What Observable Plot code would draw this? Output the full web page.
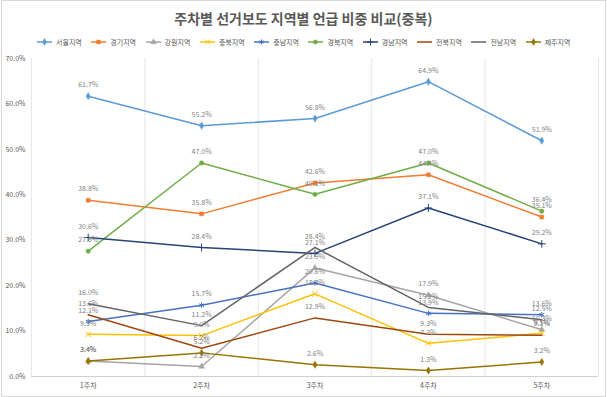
<!DOCTYPE html>
<html>
<head>
<meta charset="utf-8">
<script src="https://cdn.jsdelivr.net/npm/d3@7"></script>
<script src="https://cdn.jsdelivr.net/npm/@observablehq/plot@0.6"></script>
<style>
  html, body { margin: 0; padding: 0; background: #fff; }
  #chart { position: relative; width: 607px; height: 397px; font-family: "Noto Sans CJK KR", "Noto Sans", sans-serif; overflow: hidden; }
  #frame { position: absolute; left: 1px; top: 0px; width: 603px; height: 395px; border: 1px solid #d9d9d9; box-sizing: content-box; pointer-events: none; }
  #title { position: absolute; top: 8px; left: 0; width: 607px; text-align: center; font-size: 14px; font-weight: bold; color: #595959; line-height: 20px; }
  #legend { position: absolute; top: 37px; left: 37px; display: flex; font-size: 7px; color: #595959; line-height: 10px; }
  .item { display: flex; align-items: center; width: 54.3px; }
  .item svg { margin-right: 4px; }
  #chart > svg { position: absolute; left: 0; top: 0; }
</style>
</head>
<body>
<div id="chart">
  <div id="title"></div>
  <div id="legend"></div>
</div>
<script>
const titleText = "주차별 선거보도 지역별 언급 비중 비교(중복)";
const weeks = ["1주차", "2주차", "3주차", "4주차", "5주차"];
const regions = ["서울지역", "경기지역", "강원지역", "충북지역", "충남지역", "경북지역", "경남지역", "전북지역", "전남지역", "제주지역"];
const colors = ["#5B9BD5", "#ED7D31", "#A5A5A5", "#FFC000", "#4472C4", "#70AD47", "#264478", "#9E480E", "#636363", "#997300"];
const symbols = ["diamond", "square", "triangle", "times", "asterisk", "circle", "plus", null, null, "diamond"];

const seoul    = [61.7, 55.2, 56.8, 64.9, 51.9];
const gyeonggi = [38.8, 35.8, 42.6, 44.4, 35.1];
const gangwon  = [3.4, 2.2, 23.9, 17.9, 10.3];
const chungbuk = [9.3, 9.0, 18.2, 7.3, 9.5];
const chungnam = [12.1, 15.7, 20.6, 13.9, 13.6];
const gyeongbuk= [27.6, 47.0, 40.1, 47.0, 36.4];
const gyeongnam= [30.6, 28.4, 27.1, 37.1, 29.2];
const jeonbuk  = [13.6, 6.2, 12.9, 9.3, 9.1];
const jeonnam  = [16.0, 11.2, 28.4, 15.2, 12.5];
const jeju     = [3.4, 5.2, 2.6, 1.3, 3.2];

const series = [seoul, gyeonggi, gangwon, chungbuk, chungnam, gyeongbuk, gyeongnam, jeonbuk, jeonnam, jeju];
const yTicks = [0, 10, 20, 30, 40, 50, 60, 70];

const data = regions.flatMap((r, i) => series[i].map((v, j) => ({region: r, week: j, value: v, sym: symbols[i]})));
const strokeSyms = new Set(["times", "asterisk", "plus"]);

document.getElementById("title").textContent = titleText;

// Legend
const legend = d3.select("#legend");
regions.forEach((r, i) => {
  const item = legend.append("div").attr("class", "item");
  const s = item.append("svg").attr("width", 15).attr("height", 8);
  s.append("line").attr("x1", 0).attr("x2", 15).attr("y1", 4).attr("y2", 4)
    .attr("stroke", colors[i]).attr("stroke-width", 1.5);
  if (symbols[i]) {
    const symMap = {diamond: d3.symbolDiamond, square: d3.symbolSquare, triangle: d3.symbolTriangle, times: d3.symbolTimes, asterisk: d3.symbolAsterisk, circle: d3.symbolCircle, plus: d3.symbolPlus};
    const filled = !strokeSyms.has(symbols[i]);
    s.append("path").attr("transform", "translate(7.5,4)")
      .attr("d", d3.symbol(symMap[symbols[i]], filled ? 14 : 18)())
      .attr("fill", filled ? colors[i] : "none").attr("stroke", colors[i]).attr("stroke-width", filled ? 0.5 : 1);
  }
  item.append("span").text(r);
});

const symDomain = regions.filter((r, i) => symbols[i]);
const symRange = symbols.filter(s => s);

const plot = Plot.plot({
  width: 607,
  height: 397,
  marginTop: 58,
  marginBottom: 21,
  marginLeft: 31,
  marginRight: 9,
  style: {fontFamily: '"Noto Sans CJK KR", "Noto Sans", sans-serif', fontSize: "7px", color: "#595959", background: "transparent"},
  x: {domain: [-0.5, weeks.length - 0.5], ticks: d3.range(weeks.length), tickFormat: i => weeks[i], tickSize: 0, tickPadding: 7, label: null},
  y: {domain: [0, 70], ticks: yTicks, tickFormat: d => d.toFixed(1) + "%", tickSize: 0, tickPadding: 6, label: null},
  color: {domain: regions, range: colors},
  symbol: {domain: symDomain, range: symRange},
  marks: [
    Plot.ruleX(d3.range(-0.5, weeks.length, 1), {stroke: "#e6e6e6", strokeWidth: 1}),
    Plot.ruleY([0], {stroke: "#d0d0d0", strokeWidth: 1}),
    ...regions.map((r, i) => [
      Plot.line(data.filter(d => d.region === r), {x: "week", y: "value", stroke: "region", strokeWidth: 1.5}),
      symbols[i] ? Plot.dot(data.filter(d => d.region === r), strokeSyms.has(symbols[i])
        ? {x: "week", y: "value", symbol: "region", stroke: "region", fill: "none", r: 2.6, strokeWidth: 1}
        : {x: "week", y: "value", symbol: "region", fill: "region", stroke: "region", strokeWidth: 0.5, r: 2.2}) : null
    ]).flat().filter(Boolean),
    Plot.text(data, {x: "week", y: "value", text: d => d.value.toFixed(1) + "%", dy: -11, fill: "#7f7f7f", fontSize: 7})
  ]
});
document.getElementById("chart").appendChild(plot);
const fr = document.createElement("div"); fr.id = "frame";
document.getElementById("chart").appendChild(fr);
</script>
</body>
</html>
